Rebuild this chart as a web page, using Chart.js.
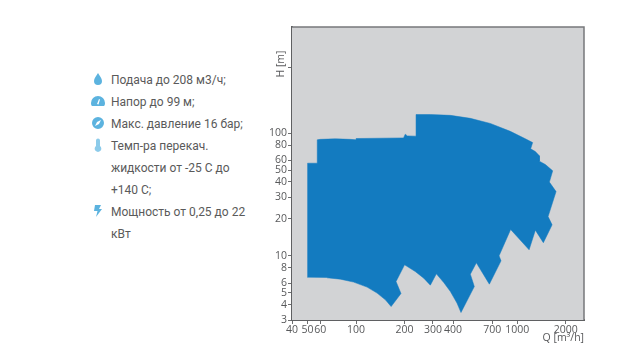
<!DOCTYPE html>
<html>
<head>
<meta charset="utf-8">
<script src="https://cdn.jsdelivr.net/npm/chart.js@4"></script>
<style>
body { margin: 0; background: #fff; }
#wrap { position: relative; width: 640px; height: 364px; overflow: hidden; }
#mychart { position: absolute; left: 0; top: 0; }
.spec { position: absolute; left: 111px; width: 136px; font: 12px/22px Roboto, sans-serif; color: #5a5a5a; }
.spec svg { position: absolute; left: -20px; top: 3px; width: 14px; height: 14px; fill: #5cb3df; }
</style>
</head>
<body>
<div id="wrap">
  <div class="spec" style="top:69px"><svg viewBox="0 0 14 14"><path d="M7 1C5.500 4 3 6 3 9a4 4 0 0 0 8 0C11 6 8.500 4 7 1z"/></svg>Подача до 208 м3/ч;</div>
  <div class="spec" style="top:91px"><svg viewBox="0 0 14 14"><path d="M7 2a7 7 0 0 0-7 7c0 1.500.4 2.500 1 3h12c.6-.5 1-1.500 1-3a7 7 0 0 0-7-7zM6 10l2-5 1 .4L7.500 10.500z"/></svg>Напор до 99 м;</div>
  <div class="spec" style="top:113px"><svg viewBox="0 0 14 14"><path d="M7 1a6 6 0 1 0 0 12A6 6 0 0 0 7 1zM4 10l2-4 4-2-2 4z"/></svg>Макс. давление 16 бар;</div>
  <div class="spec" style="top:135px"><svg viewBox="0 0 14 14" style="fill:#8ccbea"><path d="M5 2.500a2 2 0 0 1 4 0v5.500a3.300 3.300 0 1 1-4 0z"/></svg>Темп-ра перекач. жидкости от -25 С до +140 С;</div>
  <div class="spec" style="top:201px"><svg viewBox="0 0 14 14"><path d="M4 1h6L8 5h3l-6 8 1.500-6H3z"/></svg>Мощность от 0,25 до 22 кВт</div>
  <canvas id="mychart" width="640" height="364"></canvas>
</div>
<script>
// contour of the working field, walked clockwise
const flowQ = [50, 50, 57.2, 57.4, 59.9, 74.3, 92, 100, 100, 197, 202, 208, 235.6, 235.6,
    289, 385, 512, 681, 907, 1125, 1248, 1213, 1297, 1374, 1374, 1497, 1662, 1585, 1744,
    1556, 1648, 1454, 1297, 1186, 911, 772, 794, 672, 558, 512, 542, 448, 423, 385, 350, 315,
    289, 263, 233, 200, 177, 190, 165, 152, 135, 117, 96.5, 79.8, 66]
const headH = [6.65, 56.9, 56.9, 88.2, 89, 89.9, 89, 88.2, 90.4, 91.5, 98.1, 95, 94.5, 141.8,
    141.8, 139.6, 132, 120, 103.4, 89.9, 83.8, 74.5, 70.8, 65.3, 59.1, 55.5, 49.3, 39.9, 33.4,
    20.9, 17.9, 12.8, 16.2, 11.2, 16.4, 10, 9.1, 5.88, 8.77, 7.09, 5.62, 3.45, 4.12, 5.12, 6.06, 7.13,
    5.77, 6.58, 7.45, 8.45, 6.17, 4.93, 3.86, 4.38, 4.97, 5.56, 6.11, 6.46, 6.62]

const xTicks = [40, 50, 60, 100, 200, 300, 400, 700, 1000, 2000]
const yTicks = [3, 4, 5, 6, 8, 10, 20, 30, 40, 50, 60, 80, 100]
const yBlankTick = 345 // lone unlabelled mark next to the H caption
const xTitle = 'Q [m³/h]'
const yTitle = 'H [m]'

const tickFont = { family: '"Open Sans"', size: 10.5 }

// gray field behind the contour, thin top/right frame and the H caption
const fieldPlugin = {
    id: 'field',
    beforeDatasetsDraw(chart) {
        const { ctx, chartArea: a } = chart
        ctx.save()
        ctx.fillStyle = '#d2d3d5'
        ctx.fillRect(a.left, a.top, a.width, a.height)
        ctx.restore()
    },
    afterDraw(chart) {
        const { ctx, chartArea: a } = chart
        ctx.save()
        ctx.strokeStyle = '#77787b'
        ctx.lineWidth = 1.5
        ctx.beginPath()
        ctx.moveTo(a.left, a.top)
        ctx.lineTo(a.right, a.top)
        ctx.lineTo(a.right, a.bottom)
        ctx.stroke()
        ctx.translate(281, 64)
        ctx.rotate(-Math.PI / 2)
        ctx.font = '10.5px "Open Sans"'
        ctx.fillStyle = '#58595b'
        ctx.textAlign = 'center'
        ctx.textBaseline = 'middle'
        ctx.fillText(yTitle, 0, 0)
        ctx.restore()
    }
}

const config = {
    type: 'scatter',
    data: {
        datasets: [{
            data: flowQ.map((q, i) => ({ x: q, y: headH[i] })),
            showLine: true,
            fill: 'shape',
            backgroundColor: '#137bc0',
            borderColor: '#137bc0',
            borderWidth: 0.5,
            pointRadius: 0,
            tension: 0
        }]
    },
    options: {
        responsive: false,
        animation: false,
        layout: { padding: { left: 262, right: 56, top: 27, bottom: 13 } },
        plugins: { legend: { display: false }, tooltip: { enabled: false } },
        scales: {
            x: {
                type: 'logarithmic',
                min: 40,
                max: 2600,
                afterBuildTicks: s => { s.ticks = xTicks.map(v => ({ value: v })) },
                afterFit: s => { s.height = 31 },
                ticks: {
                    autoSkip: false, maxRotation: 0, padding: 0, color: '#58595b', font: tickFont,
                    callback: v => String(v)
                },
                grid: { drawOnChartArea: false, tickLength: 4, color: '#6d6e70' },
                border: { color: '#5f6062', width: 2 },
                title: {
                    display: true, text: xTitle, align: 'end', color: '#58595b', font: tickFont,
                    padding: { top: 0, bottom: 7 }
                }
            },
            y: {
                type: 'logarithmic',
                min: 3,
                max: 733,
                afterBuildTicks: s => { s.ticks = yTicks.concat(yBlankTick).map(v => ({ value: v })) },
                afterFit: s => { s.width = 30 },
                ticks: {
                    autoSkip: false, padding: 1, color: '#58595b', font: tickFont,
                    callback: v => v === yBlankTick ? '' : String(v)
                },
                grid: { drawOnChartArea: false, tickLength: 4, color: '#6d6e70' },
                border: { color: '#5f6062', width: 2 }
            }
        }
    },
    plugins: [fieldPlugin]
}

var myChart = new Chart(document.getElementById('mychart').getContext('2d'), config)
</script>
</body>
</html>
